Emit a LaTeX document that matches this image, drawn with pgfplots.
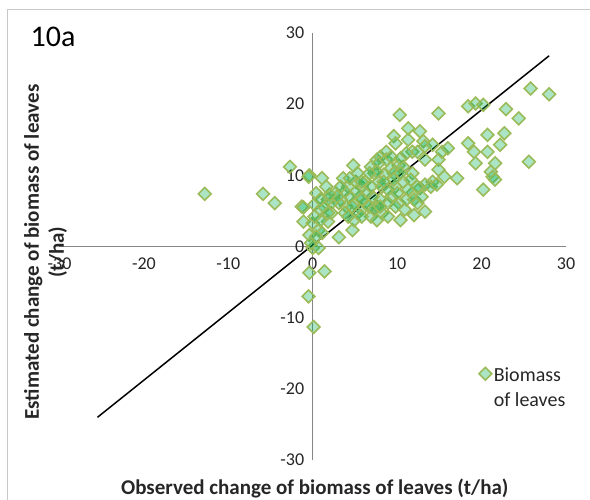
\documentclass[border=0pt]{standalone}
\usepackage{fontspec}
\setmainfont{Carlito}
\usepackage{pgfplots}
\usepackage{pgfplotstable}
\pgfplotsset{compat=1.18}
\definecolor{mk}{RGB}{155,187,89}
\definecolor{mkfill}{RGB}{0,176,80}
\definecolor{axgray}{RGB}{134,134,134}
\definecolor{framegray}{RGB}{200,200,200}

\pgfplotstableread{
x y
-12.8 7.4
-5.9 7.4
-4.5 6.1
-2.7 11.2
-0.4 10.0
-0.5 9.8
1.1 9.6
-1.3 5.6
-1.1 5.5
-1.1 3.5
-0.4 1.6
0.0 -0.2
0.7 -0.2
-0.4 -3.7
1.4 -3.5
-0.5 -7.0
0.1 -11.3
0.4 7.5
0.2 5.9
0.9 5.2
0.0 3.3
0.7 2.3
-0.2 0.5
3.1 1.3
4.7 2.3
1.8 3.5
2.2 4.7
3.6 9.6
4.8 11.4
2.7 7.5
3.3 6.6
4.2 8.4
5.1 9.1
5.8 8.4
6.2 9.1
6.9 11.2
7.6 12.2
8.0 12.6
8.7 13.3
9.6 15.5
9.8 14.5
10.3 18.5
11.3 16.6
11.3 15.0
12.7 16.2
13.1 14.8
11.8 13.3
12.4 13.3
13.3 14.1
14.2 14.3
14.9 18.7
14.9 12.2
15.3 13.3
16.0 13.8
13.3 12.2
11.8 10.3
10.2 11.4
9.3 11.0
9.6 10.3
10.7 11.2
14.2 9.1
14.9 10.8
17.1 9.6
18.4 19.7
19.3 20.1
20.2 19.9
22.9 19.3
24.4 18.0
25.8 22.2
28.0 21.4
18.4 14.5
19.1 13.3
19.3 11.7
20.7 15.7
20.7 13.3
22.7 15.9
22.2 14.3
21.6 11.7
21.1 10.5
21.3 9.8
21.6 9.4
20.2 8.0
25.6 11.9
13.3 4.9
12.0 4.4
10.4 3.7
10.9 5.2
10.2 6.1
11.1 6.6
11.8 7.5
12.7 8.2
13.3 8.7
11.3 8.0
9.3 7.0
8.9 6.1
8.2 4.7
6.9 4.2
5.8 5.2
4.9 3.7
7.6 5.6
8.0 6.6
7.1 7.0
6.4 7.5
5.6 7.0
4.9 6.1
4.0 5.6
3.8 4.7
3.1 6.1
2.2 6.1
1.8 6.6
1.3 5.6
5.3 4.7
6.2 6.1
6.9 8.4
7.8 9.1
8.4 10.1
8.2 8.4
8.9 8.0
9.8 8.4
10.7 9.1
7.3 10.3
7.8 11.7
8.7 12.2
9.3 12.6
10.4 12.4
11.1 13.1
10.0 7.5
5.8 9.1
5.1 7.7
4.4 7.0
3.8 7.7
2.9 7.0
2.0 7.3
3.3 8.4
4.7 5.6
5.8 6.6
6.7 5.6
7.3 5.2
8.0 5.6
9.8 5.6
12.0 6.6
12.4 6.1
12.9 7.0
14.0 8.4
14.7 8.7
15.6 9.8
11.6 9.4
12.4 8.4
10.4 10.3
9.6 9.4
8.4 9.1
7.6 10.5
6.7 10.3
5.3 10.3
4.4 9.6
1.8 4.7
0.9 3.7
1.1 1.9
0.4 1.4
0.2 4.2
0.9 6.6
1.6 8.4
7.6 3.7
8.9 4.2
5.8 4.2
4.2 4.2
}\biomass

\begin{document}
\begin{tikzpicture}
\useasboundingbox (-59.5pt,-39pt) rectangle (530.5pt,460pt);
\draw[framegray, line width=1pt] (-51.5pt,-100pt) -- (-51.5pt,450pt) -- (600pt,450pt);
\begin{axis}[
  scale only axis, width=506.5pt, height=427pt,
  xmin=-30, xmax=30, ymin=-30, ymax=30,
  axis lines=middle,
  axis line style={axgray, line width=1.3pt, -},
  xtick={-30,-20,...,30}, ytick={-30,-20,...,30},
  major tick length=0pt,
  hide obscured x ticks=false, hide obscured y ticks=false,
  /pgf/number format/assume math mode=true,
  tick label style={font=\fontsize{18}{21}\selectfont, text=black!85},
  xticklabel style={anchor=north, yshift=-8pt},
  yticklabel style={anchor=east, xshift=-5pt},
  clip=false,
  xlabel={Observed change of biomass of leaves (t/ha)},
  ylabel={Estimated change of biomass of leaves\\(t/ha)},
  xlabel style={at={(axis description cs:0.504,-0.0656)}, anchor=center, font=\bfseries\fontsize{21}{25}\selectfont, text=black!85},
  ylabel style={at={(axis description cs:-0.0276,0.487)}, rotate=90, anchor=center, align=center, font=\bfseries\fontsize{21}{25}\selectfont, text=black!85},
  legend style={at={(axis description cs:0.822,0.234)}, anchor=north west, draw=none, fill=none, font=\fontsize{20}{25}\selectfont, text=black!85},
  legend image code/.code={\draw[#1] plot coordinates {(0pt,0pt)};},
]
\addplot[only marks, mark=square*, mark size=4.5pt, mark options={rotate=45, draw=mk, fill=mkfill, fill opacity=0.33, line width=1.6pt}] table {\biomass};
\addlegendentry{\begin{tabular}[t]{@{}l@{}}Biomass\\of leaves\end{tabular}}
\addplot[black, line width=1.5pt, forget plot] coordinates {(-25.5,-24) (28,26.8)};
\node[anchor=west, font=\fontsize{30}{36}\selectfont, text=black] at (axis description cs:-0.064,0.99) {10a};
\end{axis}
\end{tikzpicture}
\end{document}
